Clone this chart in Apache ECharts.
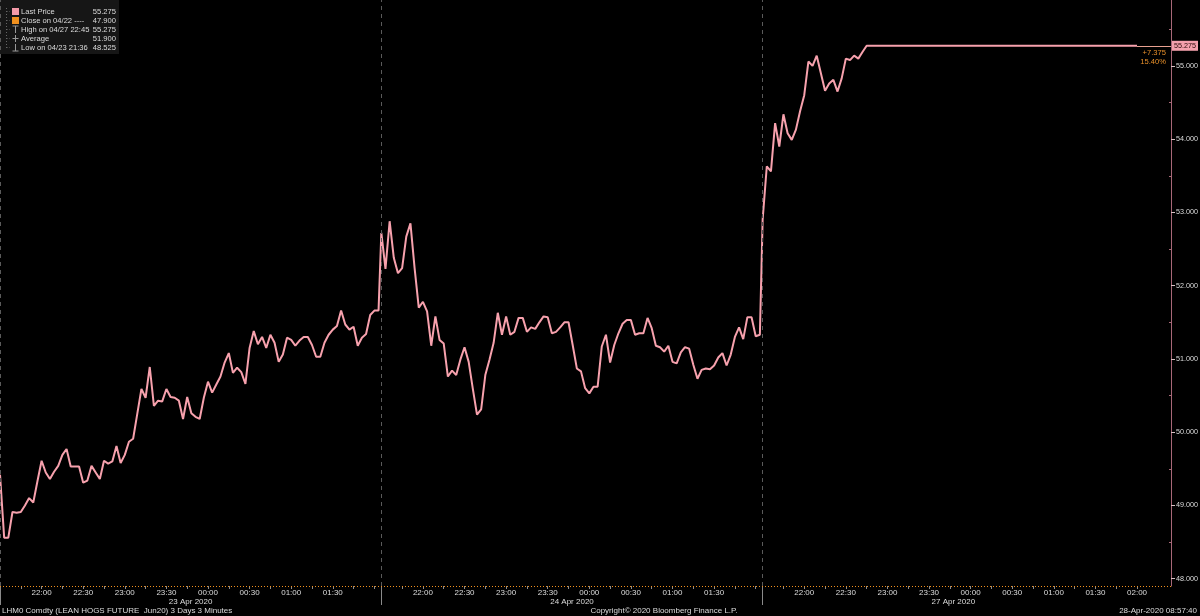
<!DOCTYPE html>
<html>
<head>
<meta charset="utf-8">
<title>LHM0 Comdty</title>
<script src="https://cdn.jsdelivr.net/npm/echarts@6/dist/echarts.min.js"></script>
<style>
  html, body { margin: 0; padding: 0; background: #000; }
  #chart { width: 1200px; height: 616px; }
</style>
</head>
<body>
<div id="chart"></div>
<script>
// three trading sessions, 3-minute bars starting 21:30
var sessionDates = ["23 Apr 2020", "24 Apr 2020", "27 Apr 2020"];
var timeLabels = ["22:00", "22:30", "23:00", "23:30", "00:00", "00:30", "01:00", "01:30", "02:00"];
var yLabels = [48, 49, 50, 51, 52, 53, 54, 55];
var closePrice = 47.9;
var lastPrice = 55.275;

var session1 = [
  49.42, 48.56, 48.56, 48.91, 48.90, 48.91, 49.00, 49.10, 49.04, 49.33,
  49.61, 49.45, 49.36, 49.46, 49.54, 49.69, 49.77, 49.53, 49.53, 49.53,
  49.31, 49.34, 49.54, 49.45, 49.36, 49.61, 49.57, 49.60, 49.81, 49.58,
  49.69, 49.87, 49.91, 50.25, 50.59, 50.47, 50.89, 50.36, 50.43, 50.42,
  50.59, 50.48, 50.47, 50.43, 50.18, 50.48, 50.26, 50.21, 50.18, 50.47,
  50.69, 50.54, 50.65, 50.76, 50.95, 51.08, 50.81, 50.88, 50.82, 50.66,
  51.15, 51.38, 51.20, 51.30, 51.15, 51.33, 51.22, 50.96, 51.06, 51.29,
  51.26, 51.18, 51.25, 51.30, 51.30, 51.19, 51.03, 51.03, 51.22, 51.33,
  51.40, 51.45, 51.66, 51.47, 51.40, 51.44, 51.18, 51.29, 51.34, 51.60,
  51.66, 51.66
];
var session2 = [
  52.72, 52.23, 52.88, 52.38, 52.17, 52.24, 52.67, 52.85, 52.24, 51.70,
  51.78, 51.65, 51.18, 51.58, 51.26, 51.21, 50.76, 50.84, 50.78, 50.99,
  51.16, 50.96, 50.59, 50.24, 50.31, 50.78, 50.99, 51.22, 51.63, 51.33,
  51.58, 51.33, 51.37, 51.56, 51.56, 51.37, 51.43, 51.41, 51.50, 51.58,
  51.57, 51.35, 51.37, 51.43, 51.50, 51.50, 51.19, 50.87, 50.83, 50.60,
  50.53, 50.62, 50.62, 51.17, 51.33, 50.95, 51.19, 51.35, 51.48, 51.53,
  51.53, 51.33, 51.35, 51.35, 51.56, 51.42, 51.18, 51.16, 51.10, 51.18,
  50.96, 50.94, 51.09, 51.16, 51.14, 50.92, 50.73, 50.85, 50.87, 50.86,
  50.91, 51.02, 51.08, 50.91, 51.06, 51.30, 51.43, 51.27, 51.57, 51.57,
  51.31, 51.33
];
var session3 = [
  52.90, 53.63, 53.56, 54.22, 53.90, 54.34, 54.08, 53.99, 54.13, 54.38,
  54.60, 55.06, 55.00, 55.14, 54.90, 54.66, 54.76, 54.81, 54.65, 54.83,
  55.10, 55.08, 55.14, 55.10, 55.19,
  55.275, 55.275, 55.275, 55.275, 55.275, 55.275, 55.275, 55.275, 55.275, 55.275, 55.275,
  55.275, 55.275, 55.275, 55.275, 55.275, 55.275, 55.275, 55.275, 55.275, 55.275, 55.275,
  55.275, 55.275, 55.275, 55.275, 55.275, 55.275, 55.275, 55.275, 55.275, 55.275, 55.275,
  55.275, 55.275, 55.275, 55.275, 55.275, 55.275, 55.275, 55.275, 55.275, 55.275, 55.275,
  55.275, 55.275, 55.275, 55.275, 55.275, 55.275, 55.275, 55.275, 55.275, 55.275, 55.275,
  55.275, 55.275, 55.275, 55.275, 55.275, 55.275, 55.275, 55.275, 55.275, 55.275, 55.275
];

var legendRows = [
  { label: "Last Price", value: "55.275", icon: "last" },
  { label: "Close on 04/22 ----", value: "47.900", icon: "close" },
  { label: "High on 04/27 22:45", value: "55.275", icon: "high" },
  { label: "Average", value: "51.900", icon: "avg" },
  { label: "Low on 04/23 21:36", value: "48.525", icon: "low" }
];

var SESSION = 275; // minutes per session
var STEP = 3;
var X_MAX = 844.5;
var FONT = "Liberation Sans";

var sessions = [session1, session2, session3];
var lineData = [];
sessions.forEach(function (arr, s) {
  arr.forEach(function (v, i) {
    lineData.push([s * SESSION + i * STEP, v]);
  });
});
var lastX = lineData[lineData.length - 1][0];

// tick / label positions
var labelValues = [];
var tickValues = [];
var midValues = [];
sessions.forEach(function (arr, s) {
  var n = s < 2 ? timeLabels.length - 1 : timeLabels.length;
  for (var k = 0; k < n; k++) labelValues.push(s * SESSION + (k + 1) * 30);
  for (var m = 15; m <= 270; m += 15) tickValues.push(s * SESSION + m);
  midValues.push(s * SESSION + SESSION / 2);
});
var halfTicks = yLabels.map(function (v) { return v + 0.5; });

var chart = echarts.init(document.getElementById("chart"));

var dashed = { color: "#5a5a5a", type: [4, 4], width: 1 };

var legendFont = "7.6px " + FONT;
var graphics = [
  { type: "rect", shape: { x: 0, y: 0, width: 119, height: 54 }, style: { fill: "#161616" } },
  { type: "line", shape: { x1: 6.5, y1: 8, x2: 6.5, y2: 48 }, style: { stroke: "#666", lineDash: [1, 2] } }
];
legendRows.forEach(function (r, i) {
  var cy = 11.5 + i * 9;
  if (r.icon === "last" || r.icon === "close") {
    graphics.push({ type: "rect", shape: { x: 12, y: cy - 3.5, width: 7, height: 7 },
      style: { fill: r.icon === "last" ? "#f49aa8" : "#f0901e" } });
  } else {
    var top = r.icon === "high", low = r.icon === "low";
    var hy = top ? cy - 3.5 : (low ? cy + 3.5 : cy);
    graphics.push({ type: "line", shape: { x1: 15.5, y1: cy - 3.5, x2: 15.5, y2: cy + 3.5 }, style: { stroke: "#999" } });
    graphics.push({ type: "line", shape: { x1: 12.5, y1: hy, x2: 18.5, y2: hy }, style: { stroke: "#999" } });
  }
  graphics.push({ type: "line", shape: { x1: 6.5, y1: cy, x2: 10, y2: cy }, style: { stroke: "#666", lineDash: [1, 2] } });
  graphics.push({ type: "text", style: { text: r.label, x: 21, y: cy, fill: "#dcdcdc", font: legendFont, textVerticalAlign: "middle" } });
  graphics.push({ type: "text", style: { text: r.value, x: 116, y: cy, fill: "#dcdcdc", font: legendFont, textAlign: "right", textVerticalAlign: "middle" } });
});
graphics.push({ type: "text", style: { text: "LHM0 Comdty (LEAN HOGS FUTURE  Jun20) 3 Days 3 Minutes", x: 2, y: 611, fill: "#dcdcdc", font: "8px " + FONT, textVerticalAlign: "middle" } });
graphics.push({ type: "text", style: { text: "Copyright\u00a9 2020 Bloomberg Finance L.P.", x: 664, y: 611, fill: "#dcdcdc", font: "8px " + FONT, textAlign: "center", textVerticalAlign: "middle" } });
graphics.push({ type: "text", style: { text: "28-Apr-2020 08:57:40", x: 1197, y: 611, fill: "#dcdcdc", font: "8px " + FONT, textAlign: "right", textVerticalAlign: "middle" } });

chart.setOption({
  backgroundColor: "#000",
  animation: false,
  grid: { left: 0, right: 29, top: 0, bottom: 30, containLabel: false, outerBoundsMode: "none" },
  xAxis: [
    {
      type: "value", min: 0, max: X_MAX,
      axisLine: { show: false },
      splitLine: { show: false },
      axisTick: { show: true, customValues: tickValues, length: 3, lineStyle: { color: "#8a8a8a" } },
      axisLabel: {
        customValues: labelValues, color: "#dcdcdc", fontSize: 8, fontFamily: FONT, margin: 3,
        formatter: function (v) { return timeLabels[Math.round((v % SESSION) / 30) - 1]; }
      }
    },
    {
      type: "value", min: 0, max: X_MAX, position: "bottom",
      axisLine: { show: false },
      splitLine: { show: false },
      axisTick: { show: true, customValues: [0, SESSION, 2 * SESSION], length: 19, lineStyle: { color: "#8a8a8a" } },
      axisLabel: {
        customValues: midValues, color: "#dcdcdc", fontSize: 8, fontFamily: FONT, margin: 12,
        formatter: function (v) { return sessionDates[Math.floor(v / SESSION)]; }
      }
    }
  ],
  yAxis: [
    {
      type: "value", position: "right", min: 47.9, max: 55.9,
      axisLine: { show: true, onZero: false, lineStyle: { color: "#a86878" } },
      splitLine: { show: false },
      axisTick: { show: true, customValues: yLabels, length: 4, lineStyle: { color: "#d8c0c4" } },
      axisLabel: {
        customValues: yLabels, color: "#dcdcdc", fontSize: 7.2, fontFamily: FONT, margin: 5,
        formatter: function (v) { return v.toFixed(3); }
      }
    },
    {
      type: "value", position: "right", min: 47.9, max: 55.9,
      axisLine: { show: false, onZero: false },
      splitLine: { show: false },
      axisTick: { show: true, inside: true, customValues: halfTicks, length: 2, lineStyle: { color: "#a86878" } },
      axisLabel: { show: false }
    }
  ],
  graphic: graphics,
  series: [
    {
      type: "line",
      data: lineData,
      showSymbol: false,
      lineStyle: { color: "#f7a1ad", width: 2 },
      itemStyle: { color: "#f7a1ad" },
      markLine: {
        symbol: "none",
        silent: true,
        animation: false,
        data: [
          { xAxis: 0, lineStyle: dashed, label: { show: false } },
          { xAxis: SESSION, lineStyle: dashed, label: { show: false } },
          { xAxis: 2 * SESSION, lineStyle: dashed, label: { show: false } },
          { yAxis: closePrice, lineStyle: { color: "#f0901e", type: [1, 2], width: 1 }, label: { show: false } },
          [
            { coord: [lastX, lastPrice], lineStyle: { color: "#e8a090", width: 1, type: "solid" },
              label: { show: true, position: "end", formatter: "55.275", backgroundColor: "#f4a0ac", color: "#2a0a0a",
                padding: [2, 2, 1, 2], fontSize: 7.2, fontFamily: FONT, distance: 1 } },
            { coord: [X_MAX, lastPrice] }
          ],
          [
            { coord: [lastX, lastPrice], lineStyle: { color: "#e8a090", width: 1, type: "solid" },
              label: { show: true, position: "insideEndBottom", formatter: "+7.375\n15.40%", color: "#e8902a",
                fontSize: 7.6, fontFamily: FONT, lineHeight: 9, distance: 3, padding: [0, 2, 0, 0] } },
            { coord: [X_MAX, lastPrice] }
          ]
        ]
      }
    }
  ]
});
</script>
</body>
</html>
